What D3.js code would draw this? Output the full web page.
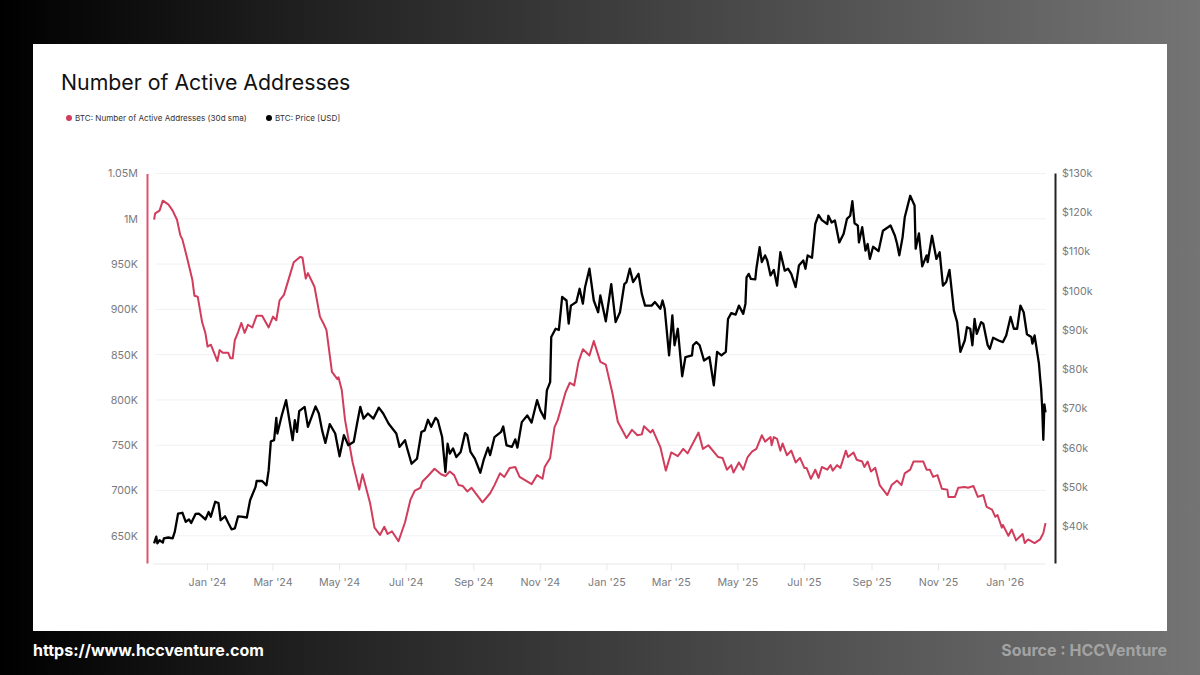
<!DOCTYPE html>
<html>
<head>
<meta charset="utf-8">
<script src="https://cdn.jsdelivr.net/npm/d3@7"></script>
<style>
  html, body { margin: 0; padding: 0; background: #000; }
  svg { display: block; font-family: Inter, sans-serif; }
</style>
</head>
<body>
<svg id="chart"></svg>
<script>
// days are counted from the first date on the chart
const startDate = "2023-11-12";
const endDay = 818;

const activeDays = [1,2,6,9,14,18,22,25,27,31,36,38,41,45,48,50,53,56,59,61,64,69,71,73,75,78,81,84,87,91,95,100,106,110,113,116,120,126,129,135,137,140,142,148,153,156,159,164,169,170,173,176,183,189,192,199,203,208,212,215,219,225,231,236,240,245,247,252,258,264,268,272,276,280,284,288,292,302,309,313,318,322,327,332,336,347,352,357,359,364,368,371,378,382,386,390,394,400,404,410,415,421,426,434,439,444,448,450,456,458,465,470,475,481,486,490,500,504,509,518,522,526,530,532,537,541,545,549,553,558,561,566,567,569,572,575,577,581,585,589,593,597,599,603,607,610,613,618,621,623,627,630,635,637,642,645,650,652,655,658,662,666,673,677,682,686,689,694,697,706,709,712,715,719,723,728,729,735,738,744,747,752,756,761,764,769,772,774,778,779,784,787,791,797,799,802,808,813,816,818];
const activeValues = [999,1006,1009,1020,1016,1009,999,982,977,958,933,915,914,886,874,859,861,852,843,855,852,852,846,846,866,875,885,874,883,880,893,893,880,892,888,910,916,940,952,958,957,934,940,925,892,885,877,831,823,825,811,778,731,701,718,686,659,651,660,652,655,644,665,690,700,703,710,716,724,718,716,721,717,706,705,699,703,687,697,706,719,715,725,726,715,707,717,713,726,736,770,778,808,819,816,842,856,849,865,842,839,808,776,758,767,761,762,771,764,767,748,722,742,738,746,741,764,746,750,737,736,723,728,720,731,723,737,743,746,761,754,759,750,759,757,744,752,739,744,731,736,725,725,713,723,714,726,723,728,722,728,725,744,737,742,734,732,726,732,721,725,706,695,706,711,706,719,723,732,732,723,723,715,717,702,701,693,693,703,704,703,705,693,695,682,679,671,673,659,662,650,657,645,652,642,646,642,646,653,664];

const priceDays = [1,3,4,6,9,10,14,18,20,23,27,30,33,35,39,42,45,48,51,53,57,60,62,66,69,72,75,78,81,86,89,94,95,100,104,106,108,111,113,114,118,122,124,126,128,130,132,134,139,142,149,152,155,158,162,167,171,175,179,184,187,190,193,197,202,207,211,216,223,226,231,233,237,242,246,249,252,255,259,261,265,268,270,272,275,278,282,286,288,291,295,300,303,307,309,313,319,321,324,329,332,334,338,343,347,352,355,359,361,364,365,369,372,375,379,381,383,388,391,394,396,400,404,408,410,415,420,424,428,432,434,437,440,445,448,451,457,460,465,467,469,473,476,478,481,485,488,494,495,498,501,505,510,514,517,521,525,527,530,534,537,541,543,544,546,548,552,553,556,558,561,563,566,569,572,575,579,582,585,589,592,596,598,600,604,607,610,613,618,619,622,625,629,633,636,639,641,643,646,647,650,653,655,657,660,665,669,676,680,682,684,687,689,694,698,699,702,705,709,710,714,718,721,724,727,730,734,737,740,744,746,749,751,753,755,759,761,765,767,770,775,779,782,786,789,792,795,798,801,805,806,808,812,813,814,815,816,817,818];
const priceValues = [35.6,37.3,35.6,36.4,35.8,36.9,37.1,36.9,38.6,43.2,43.4,41.1,41.7,40.8,43.1,43.2,42.5,41.7,43.6,42.4,46.2,45.9,41.5,42.5,40.8,39.2,39.4,42.5,42.4,42.2,46.6,50,51.5,51.5,50.4,54.2,61.6,61.9,67.6,63.6,68.2,72.1,68.7,65.3,61.9,67,64,69.3,70.4,65.3,70.5,68.7,64.4,61.2,66,63.6,57.8,63.2,60.6,61.5,66.1,70.4,67.4,68.7,67.4,70.2,68.7,66.1,63.6,60.2,61.9,59.8,55.9,57.2,64,64.4,67.1,65.3,67.6,67,62.7,53.8,61,58.5,59.8,57.6,58.9,63.7,63.2,58.9,57.2,53.6,56.8,60,58.1,62.7,64,65.4,60.6,60.2,62.1,60,66.5,68.2,66.4,72.1,69.5,67.4,74.6,76.7,88.2,90.3,90,98.4,97.5,91.6,96.2,97.1,100.5,96.7,100.9,105.6,97.5,94.5,98.8,92.2,101.7,92,94.5,101.7,102.2,105.6,102.2,104.3,99.2,96.2,96.2,97.1,95.4,97.5,95.4,83.5,93.7,86.1,90.3,78.2,83.1,83.5,86.1,86.9,86.1,82.2,83.1,75.9,84.4,83.5,84.4,92.8,94.3,93.9,96.2,94.1,96.7,103.4,104.3,103,102.9,105.6,111.1,107.3,109,107.7,103.9,105.3,101.3,109.8,105.1,105.6,104.3,100.9,106.4,107.7,105.6,109,108.4,117,119.3,118,117,119.1,117.4,117.9,112.3,114.5,118.3,119.1,122.8,117.2,116.6,112.3,116.2,110.2,111.9,108.1,111.2,110.1,115.3,116.6,114,111.9,109,113.6,118.7,124.2,121.7,110.7,114.6,106.2,109,107.3,114,108.1,109.8,101.3,102.2,105.3,95,92,84.4,87.3,90.7,90.3,86.1,92.8,89,92,91.6,86.1,85.2,88,87.3,86.9,88.6,93.3,90.3,90.3,96.2,94.5,88.9,88.2,86.5,88.6,81.4,78,75,70,62,71,69];

const monthTicks = ["2024-01-01","2024-03-01","2024-05-01","2024-07-01","2024-09-01","2024-11-01","2025-01-01","2025-03-01","2025-05-01","2025-07-01","2025-09-01","2025-11-01","2026-01-01"];
const activeTicks = [650,700,750,800,850,900,950,1000,1050];
const priceTicks = [40,50,60,70,80,90,100,110,120,130];

const width = 1200;
const height = 675;
const parseDate = d3.utcParse("%Y-%m-%d");
const start = parseDate(startDate);

const svg = d3.select("#chart").attr("width", width).attr("height", height);

// background
const grad = svg.append("defs").append("linearGradient").attr("id", "bg");
grad.append("stop").attr("offset", "0%").attr("stop-color", "#000");
grad.append("stop").attr("offset", "30%").attr("stop-color", "#262626");
grad.append("stop").attr("offset", "100%").attr("stop-color", "#747474");
svg.append("rect").attr("width", width).attr("height", height).attr("fill", "url(#bg)");
svg.append("rect").attr("x", 33).attr("y", 44).attr("width", 1134).attr("height", 587).attr("fill", "#fff");

svg.append("text").attr("x", 61).attr("y", 90).attr("font-size", 21.3).attr("fill", "#111").text("Number of Active Addresses");

// legend
const legendItems = [
  { x: 69, color: "#d23c5c", label: "BTC: Number of Active Addresses (30d sma)" },
  { x: 269, color: "#000", label: "BTC: Price [USD]" }
];
legendItems.forEach((d) => {
  svg.append("circle").attr("cx", d.x).attr("cy", 118).attr("r", 3).attr("fill", d.color);
  svg.append("text").attr("x", d.x + 6).attr("y", 121).attr("font-size", 8.1).attr("fill", "#333").text(d.label);
});

// scales
const x = d3.scaleUtc().domain([start, d3.utcDay.offset(start, endDay)]).range([153, 1045.5]);
const yActive = d3.scaleLinear().domain([620, 1050]).range([563, 173.5]);
const yPrice = d3.scaleLinear().domain([30.6, 130]).range([563, 173]);

// grid
svg.append("g").selectAll("line").data(activeTicks).enter().append("line")
  .attr("x1", 155).attr("x2", 1046)
  .attr("y1", (d) => yActive(d)).attr("y2", (d) => yActive(d))
  .attr("stroke", "#f1f1f3").attr("stroke-width", 1);

// axes
const xAxis = d3.axisBottom(x).tickValues(monthTicks.map(parseDate)).tickFormat(d3.utcFormat("%b '%y")).tickSize(7).tickSizeOuter(0).tickPadding(8);
const leftAxis = d3.axisLeft(yActive).tickValues(activeTicks).tickSize(0).tickPadding(9)
  .tickFormat((d) => (d >= 1000 ? d / 1000 + "M" : d + "K"));
const rightAxis = d3.axisRight(yPrice).tickValues(priceTicks).tickSize(0).tickPadding(7)
  .tickFormat((d) => "$" + d + "k");

const gx = svg.append("g").attr("transform", "translate(-0.5,563.5)").call(xAxis);
gx.selectAll("line").attr("stroke", "#e8e8ec");
gx.select(".domain").attr("stroke", "#e8e8ec");

const gl = svg.append("g").attr("transform", "translate(147,0)").call(leftAxis);
gl.select(".domain").attr("stroke", "#e0536f").attr("stroke-width", 2);

const gr = svg.append("g").attr("transform", "translate(1055,0)").call(rightAxis);
gr.select(".domain").attr("stroke", "#222").attr("stroke-width", 2);

[gx, gl, gr].forEach((g) => g.selectAll("text").attr("font-family", "Inter, sans-serif").attr("font-size", 10.7).attr("fill", "#7a7a7e"));

// lines
const dayDate = (d) => d3.utcDay.offset(start, d);

const activeLine = d3.line().x((d) => x(dayDate(d))).y((d, i) => yActive(activeValues[i]));
svg.append("path").attr("d", activeLine(activeDays))
  .attr("fill", "none").attr("stroke", "#d23c5c").attr("stroke-width", 2).attr("stroke-linejoin", "round");

const priceLine = d3.line().x((d) => x(dayDate(d))).y((d, i) => yPrice(priceValues[i]));
svg.append("path").attr("d", priceLine(priceDays))
  .attr("fill", "none").attr("stroke", "#000").attr("stroke-width", 2.3).attr("stroke-linejoin", "round");

// footer
svg.append("text").attr("x", 33).attr("y", 656).attr("font-size", 16).attr("font-weight", 700).attr("fill", "#fff").text("https://www.hccventure.com");
svg.append("text").attr("x", 1167).attr("y", 656).attr("text-anchor", "end").attr("font-size", 16).attr("font-weight", 700).attr("fill", "#a3a3a3").text("Source : HCCVenture");
</script>
</body>
</html>
